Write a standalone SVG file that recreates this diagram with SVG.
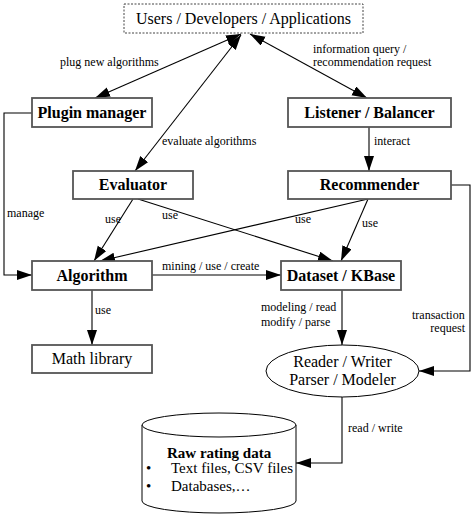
<svg xmlns="http://www.w3.org/2000/svg" width="474" height="518" viewBox="0 0 474 518">
<defs>
<marker id="ah" markerUnits="userSpaceOnUse" markerWidth="16" markerHeight="11" refX="15" refY="5" orient="auto-start-reverse" viewBox="0 0 16 11">
<path d="M0,0 L15,5 L0,10 z" fill="#000"/>
</marker>
<style>
.box{fill:#fff;stroke:#555;stroke-width:1.8}
.nl{font-family:"Liberation Serif","Times New Roman",serif;font-size:16px;font-weight:bold;fill:#000;text-anchor:middle}
.nr{font-family:"Liberation Serif","Times New Roman",serif;font-size:16px;fill:#000;text-anchor:middle}
.cb{font-family:"Liberation Serif","Times New Roman",serif;font-size:15px;font-weight:bold;fill:#000}
.cr{font-family:"Liberation Serif","Times New Roman",serif;font-size:15px;fill:#000}
.lb{font-family:"Liberation Serif","Times New Roman",serif;font-size:12px;fill:#000}
.cn{fill:none;stroke:#000;stroke-width:1.1}
</style>
</defs>
<rect width="474" height="518" fill="#fff"/>
<g id="connectors">
<line class="cn" x1="95" y1="98" x2="241" y2="34" marker-start="url(#ah)" marker-end="url(#ah)"/>
<line class="cn" x1="135" y1="171" x2="241" y2="35" marker-start="url(#ah)" marker-end="url(#ah)"/>
<line class="cn" x1="367" y1="98" x2="250" y2="34" marker-start="url(#ah)" marker-end="url(#ah)"/>
<line class="cn" x1="369" y1="127" x2="369" y2="171" marker-end="url(#ah)"/>
<polyline class="cn" points="32,113 4,113 4,275 32,275" marker-end="url(#ah)"/>
<line class="cn" x1="133" y1="199" x2="94" y2="261" marker-end="url(#ah)"/>
<line class="cn" x1="138" y1="199" x2="333" y2="261" marker-end="url(#ah)"/>
<line class="cn" x1="368" y1="199" x2="100" y2="261" marker-end="url(#ah)"/>
<line class="cn" x1="368" y1="199" x2="341" y2="261" marker-end="url(#ah)"/>
<line class="cn" x1="152" y1="275" x2="281" y2="275" marker-end="url(#ah)"/>
<line class="cn" x1="92" y1="290" x2="92" y2="345" marker-end="url(#ah)"/>
<line class="cn" x1="342" y1="290" x2="342" y2="345" marker-end="url(#ah)"/>
<polyline class="cn" points="451,185 470,185 470,371 419,371" marker-end="url(#ah)"/>
<polyline class="cn" points="342,397 342,463 296,463" marker-end="url(#ah)"/>
<text class="lb" x="60" y="66">plug new algorithms</text>
<text class="lb" x="313" y="53">information query /</text>
<text class="lb" x="313" y="66">recommendation request</text>
<text class="lb" x="162" y="145">evaluate algorithms</text>
<text class="lb" x="374" y="145">interact</text>
<text class="lb" x="7" y="217">manage</text>
<text class="lb" x="105" y="223">use</text>
<text class="lb" x="162" y="219">use</text>
<text class="lb" x="295" y="223">use</text>
<text class="lb" x="362" y="227">use</text>
<text class="lb" x="162" y="270">mining / use / create</text>
<text class="lb" x="95" y="314">use</text>
<text class="lb" x="261" y="311">modeling / read</text>
<text class="lb" x="261" y="326">modify / parse</text>
<text class="lb" x="412" y="319">transaction</text>
<text class="lb" x="465" y="332" text-anchor="end">request</text>
<text class="lb" x="348" y="432">read / write</text>
</g>
<g id="users">
<rect x="124" y="4" width="239" height="29" fill="#fff" stroke="#444" stroke-width="1" stroke-dasharray="2,1.5"/>
<text class="nr" x="243.5" y="23.5">Users / Developers / Applications</text>
</g>
<g id="plugin-manager">
<rect class="box" x="32" y="98" width="120" height="29"/>
<text class="nl" x="92" y="118">Plugin manager</text>
</g>
<g id="listener-balancer">
<rect class="box" x="288" y="98" width="163" height="29"/>
<text class="nl" x="369.5" y="118">Listener / Balancer</text>
</g>
<g id="evaluator">
<rect class="box" x="73" y="171" width="120" height="28"/>
<text class="nl" x="133" y="190">Evaluator</text>
</g>
<g id="recommender">
<rect class="box" x="288" y="171" width="163" height="28"/>
<text class="nl" x="369.5" y="190">Recommender</text>
</g>
<g id="algorithm">
<rect class="box" x="32" y="261" width="120" height="29"/>
<text class="nl" x="92" y="280.5">Algorithm</text>
</g>
<g id="dataset-kbase">
<rect class="box" x="281" y="261" width="120" height="29"/>
<text class="nl" x="341" y="280.5">Dataset / KBase</text>
</g>
<g id="math-library">
<rect class="box" x="32" y="345" width="120" height="28"/>
<text class="nr" x="92" y="364">Math library</text>
</g>
<g id="reader-writer">
<ellipse cx="342.5" cy="371" rx="76.5" ry="26" fill="#fff" stroke="#000" stroke-width="1"/>
<text class="nr" x="342.5" y="367">Reader / Writer</text>
<text class="nr" x="342.5" y="385">Parser / Modeler</text>
</g>
<g id="raw-rating-data">
<path d="M142,425 L142,501 A77,12 0 0 0 296,501 L296,425" fill="#fff" stroke="#000" stroke-width="1"/>
<ellipse cx="219" cy="425" rx="77" ry="12" fill="#fff" stroke="#000" stroke-width="1"/>
<text class="cb" x="167" y="458">Raw rating data</text>
<text class="cr" x="146" y="473">•</text>
<text class="cr" x="171" y="473">Text files, CSV files</text>
<text class="cr" x="146" y="491">•</text>
<text class="cr" x="171" y="491">Databases,…</text>
</g>
</svg>
